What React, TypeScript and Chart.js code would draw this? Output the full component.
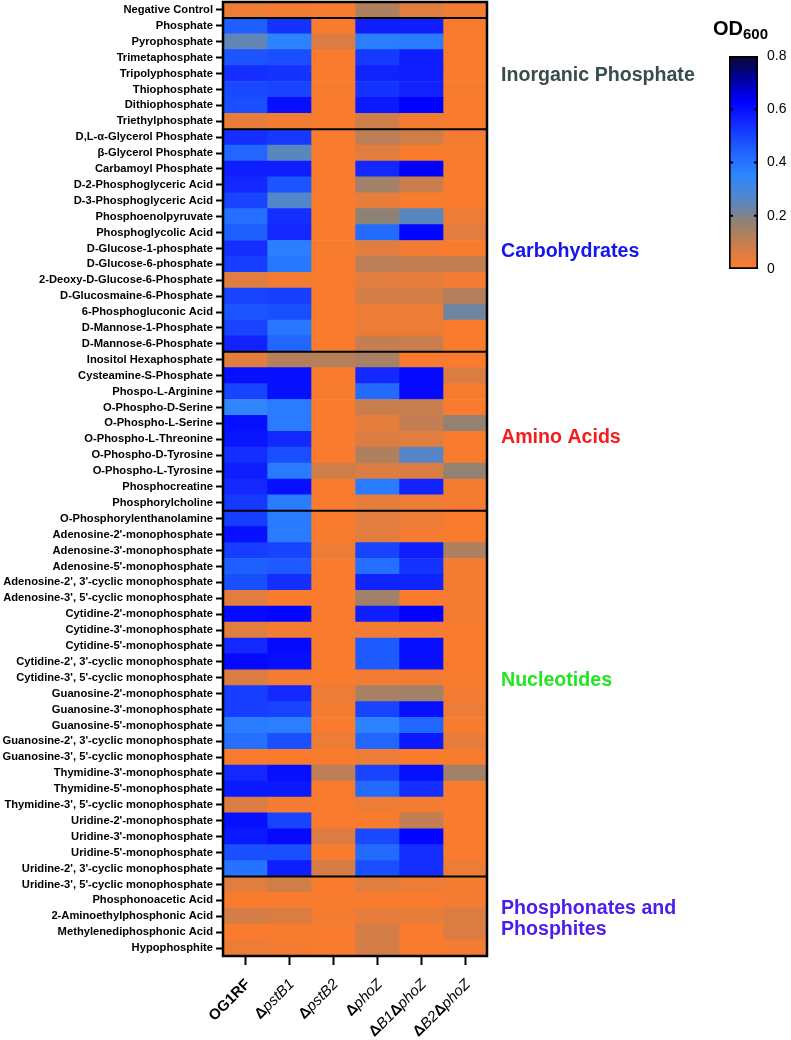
import { useEffect, useRef } from 'react';
import { Chart, registerables } from 'chart.js';

Chart.register(...registerables);

const FONT = '"Liberation Sans", Arial, Helvetica, sans-serif';

// Phosphorus sources tested (rows, top to bottom)
const substrates = [
  'Negative Control',
  'Phosphate',
  'Pyrophosphate',
  'Trimetaphosphate',
  'Tripolyphosphate',
  'Thiophosphate',
  'Dithiophosphate',
  'Triethylphosphate',
  'D,L-α-Glycerol Phosphate',
  'β-Glycerol Phosphate',
  'Carbamoyl Phosphate',
  'D-2-Phosphoglyceric Acid',
  'D-3-Phosphoglyceric Acid',
  'Phosphoenolpyruvate',
  'Phosphoglycolic Acid',
  'D-Glucose-1-phosphate',
  'D-Glucose-6-phosphate',
  '2-Deoxy-D-Glucose-6-Phosphate',
  'D-Glucosmaine-6-Phosphate',
  '6-Phosphogluconic Acid',
  'D-Mannose-1-Phosphate',
  'D-Mannose-6-Phosphate',
  'Inositol Hexaphosphate',
  'Cysteamine-S-Phosphate',
  'Phospo-L-Arginine',
  'O-Phospho-D-Serine',
  'O-Phospho-L-Serine',
  'O-Phospho-L-Threonine',
  'O-Phospho-D-Tyrosine',
  'O-Phospho-L-Tyrosine',
  'Phosphocreatine',
  'Phosphorylcholine',
  'O-Phosphorylenthanolamine',
  "Adenosine-2'-monophosphate",
  "Adenosine-3'-monophosphate",
  "Adenosine-5'-monophosphate",
  "Adenosine-2', 3'-cyclic monophosphate",
  "Adenosine-3', 5'-cyclic monophosphate",
  "Cytidine-2'-monophosphate",
  "Cytidine-3'-monophosphate",
  "Cytidine-5'-monophosphate",
  "Cytidine-2', 3'-cyclic monophosphate",
  "Cytidine-3', 5'-cyclic monophosphate",
  "Guanosine-2'-monophosphate",
  "Guanosine-3'-monophosphate",
  "Guanosine-5'-monophosphate",
  "Guanosine-2', 3'-cyclic monophosphate",
  "Guanosine-3', 5'-cyclic monophosphate",
  "Thymidine-3'-monophosphate",
  "Thymidine-5'-monophosphate",
  "Thymidine-3', 5'-cyclic monophosphate",
  "Uridine-2'-monophosphate",
  "Uridine-3'-monophosphate",
  "Uridine-5'-monophosphate",
  "Uridine-2', 3'-cyclic monophosphate",
  "Uridine-3', 5'-cyclic monophosphate",
  'Phosphonoacetic Acid',
  '2-Aminoethylphosphonic Acid',
  'Methylenediphosphonic Acid',
  'Hypophosphite',
];

// Strain axis labels, split into bold / italic runs
const strainLabels = [
  [{ t: 'OG1RF', s: 'b' }],
  [{ t: 'Δ', s: 'b' }, { t: 'pstB1', s: 'i' }],
  [{ t: 'Δ', s: 'b' }, { t: 'pstB2', s: 'i' }],
  [{ t: 'Δ', s: 'b' }, { t: 'phoZ', s: 'i' }],
  [{ t: 'Δ', s: 'b' }, { t: 'B1', s: 'i' }, { t: 'Δ', s: 'b' }, { t: 'phoZ', s: 'i' }],
  [{ t: 'Δ', s: 'b' }, { t: 'B2', s: 'i' }, { t: 'Δ', s: 'b' }, { t: 'phoZ', s: 'i' }],
];

// OD600 per strain, one value per substrate row
const og1rf = [
  0.03,
  0.45, 0.24, 0.47, 0.54, 0.49, 0.48, 0.04,
  0.54, 0.43, 0.57, 0.55, 0.50, 0.41, 0.45, 0.54, 0.51, 0.05, 0.50, 0.47, 0.50, 0.56,
  0.05, 0.60, 0.50, 0.34, 0.60, 0.59, 0.54, 0.57, 0.55, 0.52,
  0.51, 0.60, 0.51, 0.45, 0.48, 0.05, 0.61, 0.05, 0.55, 0.61, 0.06, 0.51, 0.51, 0.38, 0.41, 0.01, 0.55, 0.58, 0.06, 0.60, 0.58, 0.48, 0.40,
  0.05, 0.01, 0.07, 0.01, 0.03,
];
const pstB1 = [
  0.02,
  0.53, 0.36, 0.48, 0.53, 0.50, 0.60, 0.02,
  0.52, 0.25, 0.57, 0.47, 0.27, 0.54, 0.55, 0.37, 0.39, 0.02, 0.51, 0.48, 0.39, 0.43,
  0.12, 0.60, 0.60, 0.38, 0.38, 0.55, 0.48, 0.38, 0.60, 0.38,
  0.38, 0.38, 0.50, 0.46, 0.54, 0.01, 0.62, 0.02, 0.61, 0.60, 0.02, 0.55, 0.50, 0.37, 0.48, 0.01, 0.60, 0.58, 0.02, 0.50, 0.61, 0.48, 0.57,
  0.08, 0.01, 0.06, 0.01, 0.02,
];
const pstB2 = [
  0.01,
  0.01, 0.06, 0.01, 0.01, 0.01, 0.01, 0.01,
  0.01, 0.01, 0.01, 0.01, 0.01, 0.01, 0.01, 0.01, 0.01, 0.01, 0.01, 0.01, 0.01, 0.01,
  0.12, 0.01, 0.01, 0.01, 0.01, 0.01, 0.01, 0.08, 0.01, 0.01,
  0.01, 0.01, 0.03, 0.01, 0.01, 0.01, 0.01, 0.01, 0.01, 0.01, 0.01, 0.03, 0.02, 0.01, 0.03, 0.01, 0.11, 0.01, 0.01, 0.01, 0.06, 0.01, 0.07,
  0.01, 0.01, 0.02, 0.01, 0.01,
];
const phoZ = [
  0.13,
  0.57, 0.37, 0.52, 0.56, 0.53, 0.58, 0.08,
  0.11, 0.05, 0.55, 0.15, 0.04, 0.18, 0.42, 0.05, 0.11, 0.05, 0.07, 0.03, 0.03, 0.10,
  0.14, 0.55, 0.42, 0.09, 0.04, 0.06, 0.13, 0.06, 0.38, 0.04,
  0.05, 0.05, 0.50, 0.41, 0.56, 0.15, 0.57, 0.02, 0.46, 0.46, 0.02, 0.14, 0.50, 0.36, 0.43, 0.03, 0.50, 0.42, 0.03, 0.01, 0.49, 0.42, 0.48,
  0.05, 0.01, 0.04, 0.07, 0.07,
];
const b1phoZ = [
  0.05,
  0.57, 0.38, 0.57, 0.57, 0.56, 0.63, 0.02,
  0.08, 0.01, 0.63, 0.09, 0.01, 0.25, 0.62, 0.02, 0.10, 0.04, 0.07, 0.03, 0.03, 0.09,
  0.01, 0.61, 0.61, 0.09, 0.10, 0.05, 0.26, 0.06, 0.56, 0.03,
  0.03, 0.02, 0.57, 0.53, 0.56, 0.01, 0.63, 0.02, 0.60, 0.60, 0.02, 0.15, 0.60, 0.43, 0.58, 0.01, 0.60, 0.54, 0.02, 0.10, 0.62, 0.54, 0.54,
  0.03, 0.01, 0.04, 0.01, 0.01,
];
const b2phoZ = [
  0.02,
  0.01, 0.01, 0.01, 0.01, 0.01, 0.01, 0.01,
  0.02, 0.01, 0.01, 0.01, 0.01, 0.03, 0.05, 0.01, 0.10, 0.02, 0.12, 0.22, 0.01, 0.01,
  0.01, 0.06, 0.01, 0.01, 0.17, 0.01, 0.01, 0.17, 0.02, 0.02,
  0.01, 0.01, 0.13, 0.02, 0.02, 0.02, 0.02, 0.01, 0.01, 0.01, 0.01, 0.02, 0.03, 0.01, 0.04, 0.01, 0.15, 0.01, 0.01, 0.01, 0.01, 0.01, 0.03,
  0.02, 0.02, 0.06, 0.06, 0.02,
];
const strainValues = [og1rf, pstB1, pstB2, phoZ, b1phoZ, b2phoZ];

// Substrate classes: first row index of each class after the first one
const groupBreaks = [1, 8, 22, 32, 55];
const groupLabels = [
  ['Inorganic Phosphate'],
  ['Carbohydrates'],
  ['Amino Acids'],
  ['Nucleotides'],
  ['Phosphonates and', 'Phosphites'],
];
const groupColors = ['#384c4b', '#1414ee', '#f41c1c', '#1fe61f', '#4c1eec'];
const groupLabelRows = [4.1, 15.2, 26.9, 42.2, 57.2];

// Colour scale for OD600
const scaleMax = 0.8;
const scaleTicks = [0, 0.2, 0.4, 0.6, 0.8];
const colorStops: [number, number[]][] = [
  [0.0, [255, 124, 42]],
  [0.1, [195, 126, 82]],
  [0.18, [140, 130, 118]],
  [0.25, [90, 134, 190]],
  [0.35, [45, 135, 255]],
  [0.45, [30, 95, 255]],
  [0.55, [18, 40, 255]],
  [0.63, [0, 0, 255]],
  [0.72, [0, 0, 150]],
  [0.8, [10, 10, 48]],
];

function rgb(c: number[]) {
  return `rgb(${c.map((v) => Math.round(v)).join(',')})`;
}

function valueColor(v: number) {
  if (v <= colorStops[0][0]) return rgb(colorStops[0][1]);
  for (let i = 1; i < colorStops.length; i++) {
    const [v1, c1] = colorStops[i];
    const [v0, c0] = colorStops[i - 1];
    if (v <= v1) {
      const f = (v - v0) / (v1 - v0);
      return rgb(c0.map((c, k) => c + (c1[k] - c) * f));
    }
  }
  return rgb(colorStops[colorStops.length - 1][1]);
}

function runFont(style: string) {
  return style === 'i' ? `italic 15px ${FONT}` : `bold 15px ${FONT}`;
}

const heatmapDecor = {
  id: 'heatmapDecor',
  afterDraw(chart: any) {
    const { ctx, chartArea } = chart;
    const ys = chart.scales.y;
    const xs = chart.scales.x;
    ctx.save();

    // class separators
    ctx.strokeStyle = '#000';
    ctx.lineWidth = 2;
    groupBreaks.forEach((b) => {
      const y = (ys.getPixelForValue(b - 1) + ys.getPixelForValue(b)) / 2;
      ctx.beginPath();
      ctx.moveTo(chartArea.left, y);
      ctx.lineTo(chartArea.right, y);
      ctx.stroke();
    });

    // frame
    ctx.lineWidth = 2.5;
    ctx.strokeRect(chartArea.left, chartArea.top, chartArea.right - chartArea.left, chartArea.bottom - chartArea.top);

    // class labels
    ctx.font = `bold 19.6px ${FONT}`;
    ctx.textAlign = 'left';
    ctx.textBaseline = 'middle';
    groupLabels.forEach((lines, g) => {
      ctx.fillStyle = groupColors[g];
      const yc = ys.getPixelForValue(groupLabelRows[g]);
      const lh = 21;
      lines.forEach((line, k) => {
        ctx.fillText(line, chartArea.right + 14, yc + (k - (lines.length - 1) / 2) * lh);
      });
    });

    // strain labels, rotated
    ctx.fillStyle = '#000';
    strainLabels.forEach((runs, i) => {
      const x = xs.getPixelForValue(i + 0.5) + 3;
      const y = chartArea.bottom + 26;
      ctx.save();
      ctx.translate(x, y);
      ctx.rotate(-Math.PI / 4);
      ctx.textBaseline = 'middle';
      ctx.textAlign = 'left';
      const widths = runs.map((r) => {
        ctx.font = runFont(r.s);
        return ctx.measureText(r.t).width;
      });
      let cx = -widths.reduce((a, b) => a + b, 0);
      runs.forEach((r, k) => {
        ctx.font = runFont(r.s);
        ctx.fillText(r.t, cx, 0);
        cx += widths[k];
      });
      ctx.restore();
    });

    // colour bar title
    ctx.fillStyle = '#000';
    ctx.textBaseline = 'alphabetic';
    ctx.textAlign = 'left';
    ctx.font = `bold 20px ${FONT}`;
    ctx.fillText('OD', 713, 35);
    const w = ctx.measureText('OD').width;
    ctx.font = `bold 15px ${FONT}`;
    ctx.fillText('600', 713 + w, 39);

    ctx.restore();
  },
};

const colorbarTicks = {
  id: 'colorbarTicks',
  afterDatasetsDraw(chart: any) {
    const { ctx, chartArea } = chart;
    const ys = chart.scales.y;
    ctx.save();
    ctx.strokeStyle = '#000';
    ctx.lineWidth = 2;
    scaleTicks.slice(1, -1).forEach((v) => {
      const y = ys.getPixelForValue(v);
      ctx.beginPath();
      ctx.moveTo(chartArea.left, y);
      ctx.lineTo(chartArea.left + 4, y);
      ctx.moveTo(chartArea.right - 4, y);
      ctx.lineTo(chartArea.right, y);
      ctx.stroke();
    });
    ctx.restore();
  },
};

function colorbarFill(c: any) {
  const ys = c.chart.scales && c.chart.scales.y;
  if (!ys) return valueColor(0);
  const y0 = ys.getPixelForValue(0);
  const y1 = ys.getPixelForValue(scaleMax);
  if (!Number.isFinite(y0) || !Number.isFinite(y1) || y0 === y1) return valueColor(0);
  const g = c.chart.ctx.createLinearGradient(0, y0, 0, y1);
  colorStops.forEach(([v, col]) => g.addColorStop(v / scaleMax, rgb(col)));
  return g;
}

export default function App() {
  const mainRef = useRef<HTMLCanvasElement>(null);
  const barRef = useRef<HTMLCanvasElement>(null);

  useEffect(() => {
    if (!mainRef.current || !barRef.current) return;

    const heatmap = new Chart(mainRef.current, {
      type: 'bar',
      data: {
        labels: substrates,
        datasets: strainValues.map((vals, c) => ({
          data: substrates.map(() => [c, c + 1]),
          backgroundColor: vals.map(valueColor),
          borderWidth: 0,
          barPercentage: 1,
          categoryPercentage: 1,
          grouped: false,
        })),
      } as any,
      options: {
        responsive: false,
        animation: false,
        devicePixelRatio: 1,
        indexAxis: 'y',
        events: [],
        layout: { padding: { left: 0, top: 2, right: 304, bottom: 0 } },
        plugins: { legend: { display: false }, tooltip: { enabled: false } },
        scales: {
          x: {
            type: 'linear',
            min: 0,
            max: strainLabels.length,
            position: 'bottom',
            afterBuildTicks: (s: any) => {
              s.ticks = strainLabels.map((_, i) => ({ value: i + 0.5 }));
            },
            ticks: { display: false },
            grid: { drawOnChartArea: false, tickLength: 9, tickWidth: 2, tickColor: '#000' },
            border: { display: false },
            afterFit: (s: any) => {
              s.height = 84;
              s.paddingLeft = 0;
              s.paddingRight = 0;
            },
          },
          y: {
            type: 'category',
            offset: true,
            ticks: {
              autoSkip: false,
              padding: 3,
              color: '#000',
              font: { family: FONT, size: 11.2, weight: 'bold' },
            },
            grid: { offset: false, drawOnChartArea: false, tickLength: 7, tickWidth: 2, tickColor: '#000' },
            border: { display: false },
            afterFit: (s: any) => {
              s.width = 223;
              s.paddingTop = 0;
              s.paddingBottom = 0;
            },
          },
        },
      } as any,
      plugins: [heatmapDecor],
    });

    const colorbar = new Chart(barRef.current, {
      type: 'bar',
      data: {
        labels: ['OD600'],
        datasets: [
          {
            data: [[0, scaleMax]],
            backgroundColor: colorbarFill,
            borderColor: '#000',
            borderWidth: 2,
            borderSkipped: false,
            barPercentage: 1,
            categoryPercentage: 1,
          },
        ],
      } as any,
      options: {
        responsive: false,
        animation: false,
        devicePixelRatio: 1,
        events: [],
        layout: { padding: { left: 4, top: 16, right: 0, bottom: 11 } },
        plugins: { legend: { display: false }, tooltip: { enabled: false } },
        scales: {
          x: { display: false },
          y: {
            position: 'right',
            min: 0,
            max: scaleMax,
            afterBuildTicks: (s: any) => {
              s.ticks = scaleTicks.map((v) => ({ value: v }));
            },
            ticks: {
              padding: 9,
              color: '#000',
              font: { family: FONT, size: 14 },
              callback: (v: any) => String(Number(Number(v).toFixed(1))),
            },
            grid: { display: false, drawTicks: false },
            border: { display: false },
            afterFit: (s: any) => {
              s.width = 33;
              s.paddingTop = 0;
              s.paddingBottom = 0;
            },
          },
        },
      } as any,
      plugins: [colorbarTicks],
    });

    return () => {
      heatmap.destroy();
      colorbar.destroy();
    };
  }, []);

  return (
    <div style={{ position: 'absolute', left: 0, top: 0, width: 791, height: 1040, background: '#fff' }}>
      <canvas ref={mainRef} width={791} height={1040} style={{ position: 'absolute', left: 0, top: 0, width: 791, height: 1040 }} />
      <canvas ref={barRef} width={66} height={240} style={{ position: 'absolute', left: 725, top: 40, width: 66, height: 240 }} />
    </div>
  );
}
